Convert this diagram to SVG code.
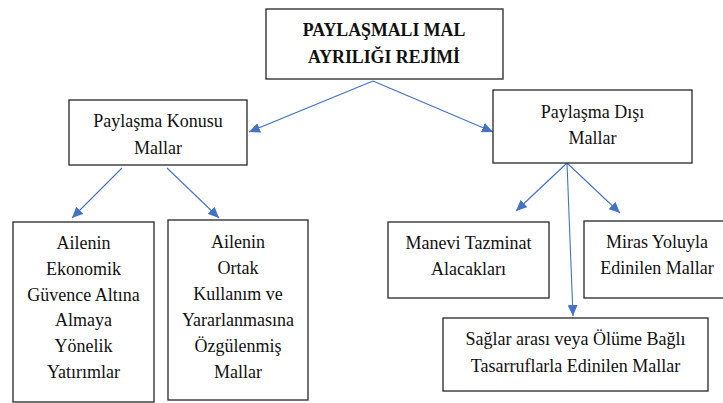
<svg xmlns="http://www.w3.org/2000/svg" width="723" height="403" viewBox="0 0 723 403" font-family="'Liberation Serif', 'Times New Roman', serif">
<defs>
<marker id="ah" markerUnits="userSpaceOnUse" markerWidth="12" markerHeight="10" refX="11" refY="5" orient="auto">
<path d="M0,0 L11,5 L0,10 z" fill="#4472C4"/>
</marker>
</defs>
<style>
rect{fill:#fff;stroke:#262626;stroke-width:1.3}
text{font-family:'Liberation Serif','Times New Roman',serif;font-size:18px;fill:#111;text-anchor:middle}
.b{font-weight:bold;font-size:17.8px}
.c line{stroke:#4472C4;stroke-width:1.1;marker-end:url(#ah)}
</style>
<rect x="0" y="0" width="723" height="403" style="fill:#fff;stroke:none"/>
<g class="c" id="connectors">
<line x1="373" y1="81" x2="249" y2="132"/>
<line x1="373" y1="81" x2="493" y2="132"/>
<line x1="122" y1="168" x2="72" y2="218"/>
<line x1="167" y1="168" x2="219" y2="218"/>
<line x1="567" y1="163" x2="516" y2="211"/>
<line x1="567" y1="163" x2="620" y2="213"/>
<line x1="567" y1="163" x2="573" y2="316"/>
</g>
<g id="root">
<rect x="266" y="9" width="237" height="70"/>
<text class="b" x="384" y="36">PAYLAŞMALI MAL</text>
<text class="b" x="384" y="63">AYRILIĞI REJİMİ</text>
</g>
<g id="konusu">
<rect x="69" y="100" width="178" height="65"/>
<text x="158" y="127">Paylaşma Konusu</text>
<text x="158" y="154">Mallar</text>
</g>
<g id="disi">
<rect x="493" y="90" width="199" height="73"/>
<text x="592.5" y="118">Paylaşma Dışı</text>
<text x="592.5" y="144">Mallar</text>
</g>
<g id="ekonomik">
<rect x="13" y="222" width="141" height="180"/>
<text x="83.5" y="249">Ailenin</text>
<text x="83.5" y="275">Ekonomik</text>
<text x="83.5" y="301">Güvence Altına</text>
<text x="83.5" y="326">Almaya</text>
<text x="83.5" y="352">Yönelik</text>
<text x="83.5" y="378">Yatırımlar</text>
</g>
<g id="ortak">
<rect x="168" y="220" width="140" height="180"/>
<text x="238" y="248">Ailenin</text>
<text x="238" y="274">Ortak</text>
<text x="238" y="300">Kullanım ve</text>
<text x="238" y="326">Yararlanmasına</text>
<text x="238" y="352">Özgülenmiş</text>
<text x="238" y="378">Mallar</text>
</g>
<g id="manevi">
<rect x="388" y="222" width="161" height="76"/>
<text x="468.5" y="249">Manevi Tazminat</text>
<text x="468.5" y="275">Alacakları</text>
</g>
<g id="miras">
<rect x="584" y="221" width="150" height="77"/>
<text x="657" y="248">Miras Yoluyla</text>
<text x="657" y="274">Edinilen Mallar</text>
</g>
<g id="saglar">
<rect x="443" y="318" width="265" height="73"/>
<text x="575.5" y="345">Sağlar arası veya Ölüme Bağlı</text>
<text x="575.5" y="372">Tasarruflarla Edinilen Mallar</text>
</g>
</svg>
